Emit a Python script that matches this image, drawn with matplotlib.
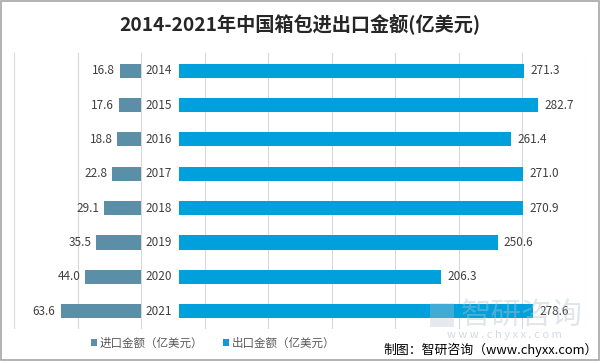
import matplotlib
matplotlib.use("Agg")
import matplotlib.pyplot as plt
from matplotlib.patches import Rectangle

plt.rcParams["font.family"] = ["Noto Sans CJK SC", "DejaVu Sans"]

years = ["2014", "2015", "2016", "2017", "2018", "2019", "2020", "2021"]
imports = [16.8, 17.6, 18.8, 22.8, 29.1, 35.5, 44.0, 63.6]
exports = [271.3, 282.7, 261.4, 271.0, 270.9, 250.6, 206.3, 278.6]

title = "2014-2021年中国箱包进出口金额(亿美元)"
import_name = "进口金额（亿美元）"
export_name = "出口金额（亿美元）"
source = "制图：智研咨询（www.chyxx.com）"

import_color = "#5B8FA8"
export_color = "#00A0DC"
text_color = "#404040"
gap = 30  # room for the year labels between the two sides

fig = plt.figure(figsize=(6, 3.61), dpi=100)
ax = fig.add_axes([0.024, 0.09, 0.952, 0.762])

pos = range(len(years))
ax.barh(pos, [-v for v in imports], height=0.41, color=import_color, zorder=2,
        label=import_name)
ax.barh(pos, exports, left=gap, height=0.41, color=export_color, zorder=2,
        label=export_name)

for i, (im, ex, yr) in enumerate(zip(imports, exports, years)):
    ax.text(-im - 4, i, f"{im:.1f}", ha="right", va="center", fontsize=8.5,
            color=text_color)
    ax.text(gap + ex + 5, i, f"{ex:.1f}", ha="left", va="center", fontsize=8.5,
            color=text_color)
    ax.text(gap / 2 - 1, i, yr, ha="center", va="center", fontsize=8.5,
            color=text_color)

ax.set_xlim(-100, 350)
ax.set_ylim(len(years) - 0.5, -0.5)
ax.set_xticks(range(-100, 351, 50))
ax.set_yticks([])
ax.tick_params(axis="x", length=0, labelbottom=False)
ax.grid(axis="x", color="#D9D9D9", linewidth=0.8, zorder=0)
for s in ax.spines.values():
    s.set_visible(False)

fig.text(0.5, 0.935, title, ha="center", va="center", fontsize=13.8,
         fontweight="bold", color="#262626")

leg = fig.legend(loc="center", bbox_to_anchor=(0.355, 0.05), ncol=2, frameon=False,
                 fontsize=8.3, handlelength=0.5, handleheight=0.5,
                 handletextpad=0.2, columnspacing=1.8)
for t in leg.get_texts():
    t.set_color("#595959")

# watermark
fig.text(0.87, 0.125, "智研咨询", ha="center", va="center", fontsize=22,
         color="#B8C2CC", alpha=0.4, zorder=5)
fig.text(0.84, 0.072, "w w w . c h y x x . c o m", ha="center", va="center",
         fontsize=8, color="#B8C2CC", alpha=0.6, zorder=5)
fig.patches.append(Rectangle((0.717, 0.095), 0.04, 0.065, transform=fig.transFigure,
                             facecolor="#B8C2CC", alpha=0.35, edgecolor="none",
                             zorder=5))

fig.text(0.996, 0.032, source, ha="right", va="center", fontsize=9.3, color="black")

fig.patches.append(Rectangle((0.001, 0.002), 0.997, 0.995, transform=fig.transFigure,
                             fill=False, edgecolor="#A6A6A6", linewidth=1.2))

fig.savefig("out.png", dpi=100)
